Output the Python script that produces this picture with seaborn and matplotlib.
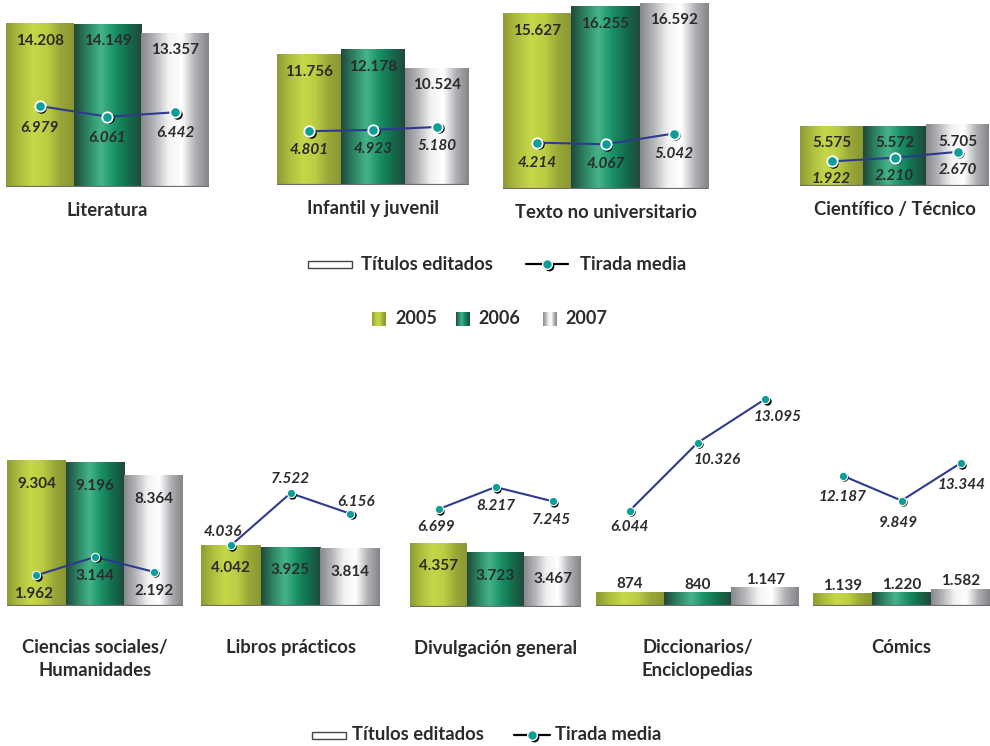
import numpy as np
import matplotlib
matplotlib.use("Agg")
import matplotlib.pyplot as plt
import seaborn as sns
from matplotlib.colors import LinearSegmentedColormap
from matplotlib.patches import Rectangle
from matplotlib.transforms import offset_copy

sns.set_theme(style="white")
plt.rcParams['font.family'] = ['Lato', 'DejaVu Sans']

years = ["2005", "2006", "2007"]

cat_top = ["Literatura", "Infantil y juvenil", "Texto no universitario", "Científico / Técnico"]
titulos_top = [[14208, 14149, 13357], [11756, 12178, 10524], [15627, 16255, 16592], [5575, 5572, 5705]]
tirada_top = [[6979, 6061, 6442], [4801, 4923, 5180], [4214, 4067, 5042], [1922, 2210, 2670]]

cat_bottom = ["Ciencias sociales/\nHumanidades", "Libros prácticos", "Divulgación general",
              "Diccionarios/\nEnciclopedias", "Cómics"]
titulos_bottom = [[9304, 9196, 8364], [4042, 3925, 3814], [4357, 3723, 3467], [874, 840, 1147], [1139, 1220, 1582]]
tirada_bottom = [[1962, 3144, 2192], [4036, 7522, 6156], [6699, 8217, 7245], [6044, 10326, 13095], [12187, 9849, 13344]]

legend_labels = ["Títulos editados", "Tirada media"]

W, H = 990, 746
TXT = "#2b2b2b"
NAVY = "#2e3a8f"
TEAL = "#0a9e96"

grad_colors = [
    ["#8e9a33", "#aebe3f", "#c6d748", "#bccd44", "#9aa838", "#8a9632"],
    ["#22473a", "#2c8563", "#45b48a", "#1a9066", "#126d4b", "#22473a"],
    ["#87888c", "#b5b6b9", "#f2f2f2", "#ffffff", "#b0b1b4", "#838488"],
]
cmaps = [LinearSegmentedColormap.from_list(y, c) for y, c in zip(years, grad_colors)]
grad = np.linspace(0, 1, 256).reshape(1, -1)

fig = plt.figure(figsize=(9.9, 7.46), dpi=100)


def fmt(v):
    return f"{v:,}".replace(",", ".")


def px(v):
    # pixels -> points
    return v * 72 / 100


def draw_marker(ax, x, y, ms, mew):
    shadow = offset_copy(ax.transData, fig=fig, x=1.5, y=-1.5, units="dots")
    ax.plot(x, y, "o", ms=ms, color="black", mew=0, transform=shadow, zorder=4.5)
    ax.plot(x, y, "o", ms=ms, mfc=TEAL, mec="white", mew=mew, zorder=5)


def draw_panel(x0, x1, top, base, scale, lscale, name, bars, line, big, lab_off, italic=True):
    ax = fig.add_axes([x0 / W, 1 - base / H, (x1 - x0) / W, (base - top) / H])
    sns.barplot(x=years, y=bars, ax=ax, width=1.0, color="white", linewidth=0, saturation=1)
    for i, p in enumerate(ax.patches):
        ax.imshow(grad, extent=[p.get_x(), p.get_x() + p.get_width(), 0, p.get_height()],
                  aspect="auto", cmap=cmaps[i], interpolation="bicubic", zorder=2)
    ax.axhline(0, color="#6e6e6e", lw=1.6, zorder=3)
    ax.set_xlim(-0.5, 2.5)
    ax.set_ylim(0, (base - top) / scale)
    ax.axis("off")

    inside = 17 if big else 23
    for i, v in enumerate(bars):
        dy = -inside if v * scale > 30 else 8
        ax.annotate(fmt(v), (i, v), xytext=(0, px(dy)), textcoords="offset points",
                    ha="center", va="center", fontsize=11, fontweight="bold", color=TXT, zorder=6)

    # the average print run sits on its own scale
    ax2 = ax.twinx()
    ax2.set_xlim(-0.5, 2.5)
    ax2.set_ylim(0, (base - top) / lscale)
    ax2.axis("off")
    xs = np.arange(3)
    ax2.plot(xs, line, color=NAVY, lw=1.5, zorder=4)
    draw_marker(ax2, xs, line, 7.5 if big else 6, 1.3 if big else 0.8)
    for i, v in enumerate(line):
        dx, dy = lab_off[i]
        ax2.annotate(fmt(v), (i, v), xytext=(px(dx), px(dy)), textcoords="offset points",
                     ha="center", va="center", fontsize=11, fontweight="bold",
                     fontstyle="italic" if italic else "normal", color=TXT, zorder=6)

    ax.annotate(name, (0.5, 0), xycoords="axes fraction", xytext=(0, -px(15 if big else 33)),
                textcoords="offset points", ha="center", va="top", fontsize=13.3,
                fontweight="bold", color=TXT, linespacing=1.45)
    return ax


top_layout = [(6, 209, 187, 0.0115, 0.0116), (277, 469, 185, 0.0111, 0.0112),
              (503, 708, 189, 0.0112, 0.0110), (800, 989, 186, 0.0107, 0.0128)]
top_offsets = [
    [(0, -22), (0, -21), (0, -21)],
    [(0, -19), (0, -19), (0, -19)],
    [(0, -20), (0, -20), (0, -20)],
    [(0, -18), (0, -18), (0, -18)],
]
for k, ((x0, x1, base, sc, lsc), name, b, l) in enumerate(zip(top_layout, cat_top, titulos_top, tirada_top)):
    draw_panel(x0, x1, 0, base, sc, lsc, name, b, l, True, top_offsets[k])

bottom_layout = [(7, 183, 606, 0.0156), (201, 380, 606, 0.0150), (410, 581, 607, 0.0146),
                 (596, 799, 606, 0.0158), (813, 990, 606, 0.0107)]
bottom_offsets = [
    [(-3, -19), (0, -19), (0, -19)],
    [(-8, 13), (0, 14), (6, 12)],
    [(-2, -18), (0, -19), (-1, -19)],
    [(0, -16), (20, -17), (12, -18)],
    [(0, -21), (-3, -22), (1, -22)],
]
for k, ((x0, x1, base, sc), name, b, l) in enumerate(zip(bottom_layout, cat_bottom, titulos_bottom, tirada_bottom)):
    draw_panel(x0, x1, 380, base, sc, sc, name, b, l, False, bottom_offsets[k], italic=(k != 0))

# legends drawn on an overlay in pixel coordinates
ov = fig.add_axes([0, 0, 1, 1], facecolor="none")
for rx, rw, ycen, tx1, lx0, lx1, tx2 in [(308, 44, 264, 361, 526, 568, 580), (312, 34, 735, 352, 514, 550, 555)]:
    ov.add_patch(Rectangle((rx, ycen - 3.5), rw, 7, facecolor="white", edgecolor="#444444", lw=1))
    ov.text(tx1, ycen, legend_labels[0], ha="left", va="center", fontsize=13.3, fontweight="bold", color=TXT)
    ov.plot([lx0, lx1], [ycen, ycen], color="black", lw=1.6)
    draw_marker(ov, [(lx0 + lx1) / 2], [ycen], 7, 1)
    ov.text(tx2, ycen, legend_labels[1], ha="left", va="center", fontsize=13.3, fontweight="bold", color=TXT)

for i, (sx, tx) in enumerate([(372, 395), (456, 478), (543, 565)]):
    ov.imshow(grad, extent=[sx, sx + 14, 326, 312], aspect="auto", cmap=cmaps[i], interpolation="bicubic")
    ov.text(tx, 319, years[i], ha="left", va="center", fontsize=13, fontweight="bold", color=TXT)
ov.set_xlim(0, W)
ov.set_ylim(H, 0)
ov.axis("off")

fig.savefig("out.png", dpi=100)
